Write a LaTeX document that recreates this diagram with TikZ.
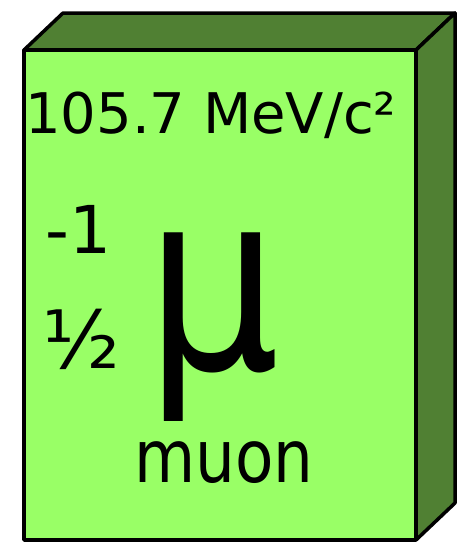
\documentclass[tikz,border=0pt]{standalone}
\usepackage{fontspec}
\setmainfont{DejaVu Sans}
\definecolor{frontgreen}{RGB}{153,255,102}
\definecolor{sidegreen}{RGB}{80,128,51}
\tikzset{
	face/.style={line width=3.5pt, line join=round, draw=black},
	txt/.style={inner sep=0pt, anchor=base west, text=black}
}

\begin{document}
\begin{tikzpicture}[x=1pt, y=-1pt]
			\useasboundingbox (0,0) rectangle (464,542);
			
			% Box: top and side
			\draw[face, fill=sidegreen] (24,50) -- (63,13) -- (455,13) -- (416,50) -- cycle;
			\draw[face, fill=sidegreen] (416,50) -- (455,13) -- (455,503) -- (416,540) -- cycle;
			
			% Box: front
			\draw[face, fill=frontgreen] (24,50) rectangle (416,540);
			
			% Mass
			\node[txt, font=\fontsize{56}{56}\selectfont] (mass) at (25,133) {105.7 MeV/c²};
			
			% Charge and spin
			\node[txt, font=\fontsize{66}{66}\selectfont] (charge) at (45,253) {-1};
			\node[txt, font=\fontsize{80}{80}\selectfont] (spin) at (42,368) {½};
			
			% Symbol and name
			\node[txt, font=\fontsize{250}{250}\selectfont, xscale=0.84] (symbol) at (146,369) {μ};
			\node[txt, font=\fontsize{73}{73}\selectfont, xscale=0.86] (name) at (134,482) {muon};
		\end{tikzpicture}
\end{document}
